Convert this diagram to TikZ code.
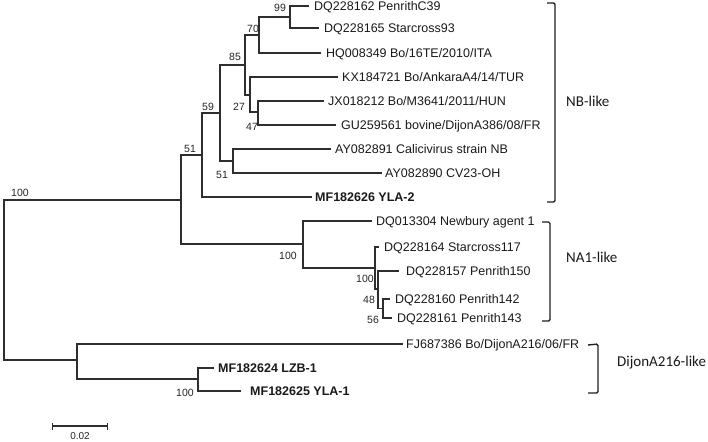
\documentclass[tikz,border=0pt]{standalone}
\usepackage{fontspec}
\setmainfont{Liberation Sans}
\newfontfamily\cladefont{Carlito}
\begin{document}
\begin{tikzpicture}[x=1pt,y=-1pt,
  br/.style={draw=black!82, line width=1.3pt, line cap=rect},
  tip/.style={anchor=west, inner sep=0pt, text height=8.95pt, text depth=0pt,
    font=\fontsize{12.5}{14}\selectfont, text=black!90},
  tipb/.style={tip, font=\fontsize{12.5}{14}\selectfont\bfseries},
  bs/.style={inner sep=0pt, text height=7.5pt, text depth=0pt,
    font=\fontsize{10.5}{12}\selectfont, text=black!85},
  clade/.style={anchor=west, inner sep=0pt, text height=9.7pt, text depth=0pt,
    font=\cladefont\fontsize{15}{17}\selectfont, text=black!90},
  bracket/.style={draw=black!88, line width=1.4pt, rounded corners=1.5pt}]
\useasboundingbox (0,0) rectangle (708,441);
% internal nodes
\coordinate (R) at (4,280);
\coordinate (U) at (181,200);
\coordinate (A51) at (202,155);
\coordinate (A59) at (220,113);
\coordinate (A85) at (245,65);
\coordinate (A70) at (259,35);
\coordinate (A99) at (290,17);
\coordinate (A27) at (250,95);
\coordinate (A47) at (258,112);
\coordinate (B51) at (233,161);
\coordinate (NA) at (303,244);
\coordinate (NB) at (375,268);
\coordinate (NC) at (378,289);
\coordinate (ND) at (383,308.5);
\coordinate (D) at (77,360);
\coordinate (E) at (198,379);
% tip ends
\coordinate (t1) at (308,6);
\coordinate (t2) at (318,28);
\coordinate (t3) at (320,53);
\coordinate (t4) at (337,77);
\coordinate (t5) at (323,101);
\coordinate (t6) at (335,125);
\coordinate (t7) at (330,149);
\coordinate (t8) at (381,173);
\coordinate (t9) at (311,197);
\coordinate (t10) at (371,221);
\coordinate (t11) at (378,247);
\coordinate (t12) at (398,271);
\coordinate (t13) at (389,299);
\coordinate (t14) at (391,318);
\coordinate (t15) at (402,344);
\coordinate (t16) at (213,368);
\coordinate (t17) at (240,391);
% branches
\draw[br] (R) |- (U);
\draw[br] (R) |- (D);
\draw[br] (U) |- (A51);
\draw[br] (U) |- (NA);
\draw[br] (A51) |- (A59);
\draw[br] (A51) |- (t9);
\draw[br] (A59) |- (A85);
\draw[br] (A59) |- (B51);
\draw[br] (A85) |- (A70);
\draw[br] (A85) |- (A27);
\draw[br] (A70) |- (A99);
\draw[br] (A70) |- (t3);
\draw[br] (A99) |- (t1);
\draw[br] (A99) |- (t2);
\draw[br] (A27) |- (t4);
\draw[br] (A27) |- (A47);
\draw[br] (A47) |- (t5);
\draw[br] (A47) |- (t6);
\draw[br] (B51) |- (t7);
\draw[br] (B51) |- (t8);
\draw[br] (NA) |- (t10);
\draw[br] (NA) |- (NB);
\draw[br] (NB) |- (t11);
\draw[br] (NB) |- (NC);
\draw[br] (NC) |- (t12);
\draw[br] (NC) |- (ND);
\draw[br] (ND) |- (t13);
\draw[br] (ND) |- (t14);
\draw[br] (D) |- (t15);
\draw[br] (D) |- (E);
\draw[br] (E) |- (t16);
\draw[br] (E) |- (t17);
% tip labels
\node[tip] (l1) at (314,6) {DQ228162 PenrithC39};
\node[tip] (l2) at (324,28) {DQ228165 Starcross93};
\node[tip] (l3) at (326,53) {HQ008349 Bo/16TE/2010/ITA};
\node[tip] (l4) at (342,77) {KX184721 Bo/AnkaraA4/14/TUR};
\node[tip] (l5) at (328,101) {JX018212 Bo/M3641/2011/HUN};
\node[tip] (l6) at (341,125) {GU259561 bovine/DijonA386/08/FR};
\node[tip] (l7) at (335,149) {AY082891 Calicivirus strain NB};
\node[tip] (l8) at (385,173) {AY082890 CV23-OH};
\node[tipb] (l9) at (315,197) {MF182626 YLA-2};
\node[tip] (l10) at (376,221) {DQ013304 Newbury agent 1};
\node[tip] (l11) at (384,247) {DQ228164 Starcross117};
\node[tip] (l12) at (406,271) {DQ228157 Penrith150};
\node[tip] (l13) at (395,299) {DQ228160 Penrith142};
\node[tip] (l14) at (397,318) {DQ228161 Penrith143};
\node[tip] (l15) at (406,344) {FJ687386 Bo/DijonA216/06/FR};
\node[tipb] (l16) at (218,368) {MF182624 LZB-1};
\node[tipb] (l17) at (250,391) {MF182625 YLA-1};
% bootstrap values
\node[bs] (b1) at (280,8) {99};
\node[bs] (b2) at (253,29) {70};
\node[bs] (b3) at (235,57) {85};
\node[bs] (b4) at (208,107) {59};
\node[bs] (b5) at (239,107) {27};
\node[bs] (b6) at (252,127) {47};
\node[bs] (b7) at (190,149) {51};
\node[bs] (b8) at (222,175) {51};
\node[bs] (b9) at (20,193) {100};
\node[bs] (b10) at (288,256) {100};
\node[bs] (b11) at (365,279) {100};
\node[bs] (b12) at (369,300) {48};
\node[bs] (b13) at (373,320) {56};
\node[bs] (b14) at (185,393) {100};
% clade brackets
\coordinate (nb1) at (547,3);
\coordinate (nb2) at (555,3);
\coordinate (nb3) at (555,202);
\coordinate (nb4) at (547,202);
\draw[bracket] (nb1) -- (nb2) -- (nb3) -- (nb4);
\coordinate (na1) at (542,222);
\coordinate (na2) at (550,222);
\coordinate (na3) at (550,321);
\coordinate (na4) at (542,321);
\draw[bracket] (na1) -- (na2) -- (na3) -- (na4);
\coordinate (dj1) at (588,345);
\coordinate (dj2) at (598,344);
\coordinate (dj3) at (598,393);
\coordinate (dj4) at (588,393);
\draw[bracket] (dj1) -- (dj2) -- (dj3) -- (dj4);
\node[clade] (c1) at (566,102) {NB-like};
\node[clade] (c2) at (566,258) {NA1-like};
\node[clade] (c3) at (617,362) {DijonA216-like};
% scale bar
\coordinate (s1) at (52,426);
\coordinate (s2) at (107,426);
\draw[br, line width=1.2pt, line cap=butt] (s1) -- (s2);
\draw[br, line width=1pt, line cap=butt] ([yshift=-3.5pt]s1) -- ([yshift=3.5pt]s1);
\draw[br, line width=1pt, line cap=butt] ([yshift=-3.5pt]s2) -- ([yshift=3.5pt]s2);
\node[bs, font=\fontsize{10}{12}\selectfont] (sl) at (80,435.5) {0.02};
\end{tikzpicture}
\end{document}
